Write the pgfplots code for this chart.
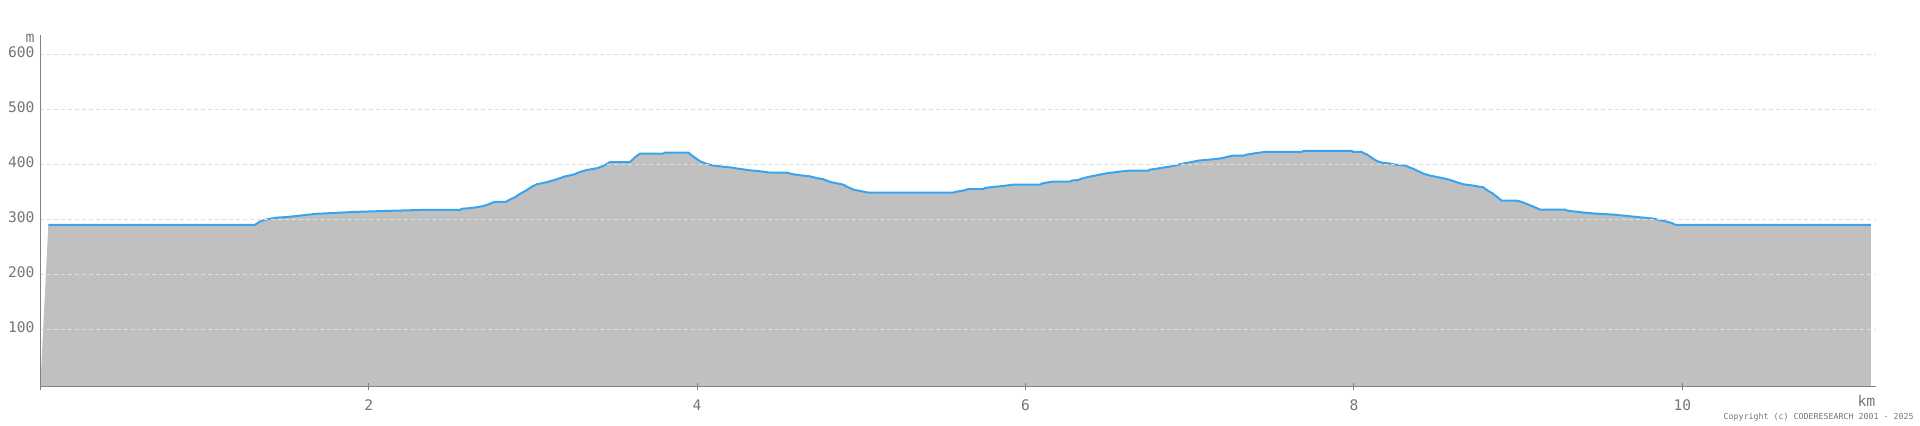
\documentclass[border=0pt]{standalone}
\usepackage{fontspec}
\usepackage{pgfplots}
\pgfplotsset{compat=1.18}
\usepackage{pgfplotstable}
\newfontfamily\monofont{DejaVu Sans Mono}
\definecolor{fillgray}{RGB}{192,192,192}
\definecolor{lineblue}{RGB}{58,163,240}
\definecolor{axisgray}{RGB}{128,128,128}
\definecolor{gridgray}{RGB}{222,222,222}
\definecolor{textgray}{RGB}{118,118,118}

\pgfplotstableread{
x y
0 -4.4
0.049 290
1.308 290
1.338 296
1.369 299
1.399 301
1.44 303
1.50 304
1.561 306
1.622 308
1.683 310
1.795 311.5
1.906 313.3
2.089 315
2.323 317
2.556 317
2.566 319
2.627 320.6
2.668 322.4
2.698 324
2.728 327
2.763 331.5
2.834 331.5
2.861 336
2.891 340
2.921 346
2.962 353
2.993 359
3.023 363.6
3.063 366
3.104 369
3.145 372.7
3.196 378
3.246 381
3.287 386
3.328 389.7
3.389 392.7
3.429 397
3.459 402
3.47 404
3.591 404
3.622 412.7
3.652 419.4
3.794 419.4
3.804 421.2
3.947 421.2
3.977 414
4.018 405.5
4.058 400.6
4.099 397.6
4.15 395.8
4.21 394
4.261 391.5
4.322 389
4.383 387.3
4.444 384.8
4.546 384.8
4.586 381.8
4.627 380
4.688 378
4.728 375
4.769 372.7
4.809 368
4.86 364.8
4.89 363
4.921 358
4.951 354
4.992 351.5
5.043 348.5
5.56 348.5
5.581 350.3
5.621 352
5.652 355
5.743 355
5.753 357
5.804 358.8
5.865 360.6
5.926 363
6.088 363
6.099 364.8
6.129 366.7
6.17 368.5
6.271 368.5
6.281 370.3
6.322 371.5
6.342 374
6.383 377
6.424 379.4
6.454 381.2
6.484 383
6.525 384.8
6.576 386.7
6.637 388.5
6.748 388.5
6.758 390.3
6.799 392
6.839 394
6.88 395.8
6.91 397.6
6.941 400
6.971 401.8
7.012 404.2
7.053 406.7
7.103 407.9
7.164 409.7
7.205 411.5
7.235 414
7.266 415.8
7.327 415.8
7.347 417.6
7.398 420
7.459 422.4
7.682 422.4
7.692 424.2
7.987 424.2
7.997 422.4
8.048 422.4
8.058 420.6
8.078 418
8.099 414
8.119 409.7
8.139 406
8.17 403
8.221 401.2
8.251 399.4
8.312 397.6
8.332 395.2
8.363 391.5
8.393 387.3
8.423 383
8.464 379.4
8.505 377
8.545 374.5
8.586 371.5
8.626 367.3
8.667 363.6
8.728 361.2
8.768 359
8.788 358.2
8.809 353.3
8.839 348
8.87 341.2
8.9 334
8.991 334
9.022 331.5
9.052 328
9.093 323
9.134 317.6
9.286 317.6
9.296 315.8
9.347 314
9.408 312
9.469 310.3
9.58 308.5
9.641 306.7
9.702 304.8
9.763 303
9.824 301.2
9.864 298.2
9.905 295.8
9.936 293.3
9.956 290
11.148 290
11.148 -4.4
}\profile

\begin{document}
\begin{tikzpicture}
\useasboundingbox (0,0) rectangle (960pt,212.5pt);
\begin{axis}[
  name=ax,
  at={(20.15pt,19.15pt)}, anchor=south west,
  scale only axis, width=917.7pt, height=175.85pt,
  xmin=0, xmax=11.178, ymin=-4.4, ymax=635,
  axis x line=bottom, axis y line=left,
  axis line style={-, draw=axisgray, line width=0.5pt},
  xtick={0,2,4,6,8,10}, xticklabels={,2,4,6,8,10},
  ytick={100,200,300,400,500,600},
  ymajorgrids,
  grid style={gridgray, dash pattern=on 2pt off 1.5pt, line width=0.5pt},
  major tick style={axisgray, line width=0.5pt},
  ytick style={draw=none},
  tick align=center, major tick length=3.5pt,
  axis on top,
  /pgf/number format/assume math mode=true,
  tick label style={font=\monofont\fontsize{7.3}{8}\selectfont, text=textgray},
  xticklabel style={anchor=base, inner sep=0pt, yshift=-10pt},
  yticklabel style={anchor=east, inner sep=0pt, xshift=-1.0pt},
  typeset ticklabels with strut=false,
  xlabel={km}, ylabel={m},
  every axis x label/.style={at={(rel axis cs:1,0)}, anchor=base east, inner sep=0pt, yshift=-10pt, font=\monofont\fontsize{7.4}{8}\selectfont, text=textgray},
  every axis y label/.style={at={(rel axis cs:0,1)}, anchor=base east, inner sep=0pt, xshift=-2.65pt, yshift=-3.6pt, font=\monofont\fontsize{7.4}{8}\selectfont, text=textgray},
]
\addplot[draw=none, fill=fillgray] table {\profile} -- cycle;
\addplot[lineblue, line width=1pt, restrict y to domain=0:1000] table {\profile};
\end{axis}
\node[anchor=base east, inner sep=0pt, font=\monofont\fontsize{4.15}{5}\selectfont, text=textgray]
  at ([xshift=19.15pt, yshift=-16.4pt]ax.south east) {Copyright (c) CODERESEARCH 2001 - 2025};
\end{tikzpicture}
\end{document}
